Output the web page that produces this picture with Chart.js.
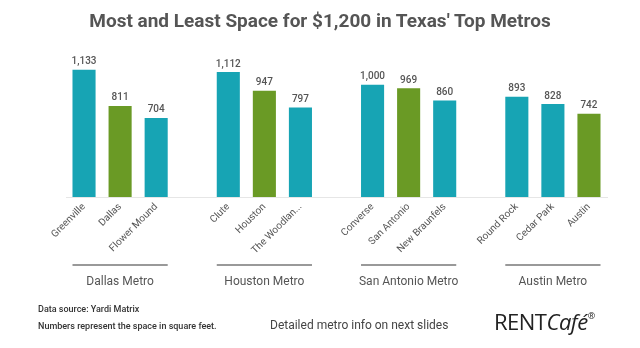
<!DOCTYPE html>
<html>
<head>
<meta charset="utf-8">
<script src="https://cdn.jsdelivr.net/npm/chart.js@4"></script>
<style>
  body { margin: 0; background: #fff; font-family: Roboto, sans-serif; }
  #wrap { position: relative; width: 640px; height: 348px; }
  #chart { position: absolute; left: 0; top: 0; }
  .txt { position: absolute; white-space: nowrap; }
  #title { left: 0; width: 640px; top: 9px; text-align: center; font-size: 19px; font-weight: 700; color: #555; }
  #src1 { left: 38px; top: 304px; font-size: 9px; font-weight: 500; color: #333; }
  #src2 { left: 38px; top: 321px; font-size: 9px; font-weight: 500; color: #333; }
  #note { left: 270px; top: 318px; font-size: 12px; color: #444; }
  #logo { left: 494px; top: 306px; font-size: 22px; color: #222; font-family: "Open Sans", sans-serif; letter-spacing: -0.5px; }
  #logo sup { font-size: 9px; vertical-align: 11px; }
</style>
</head>
<body>
<div id="wrap">
  <canvas id="chart" width="640" height="348"></canvas>
  <div id="title" class="txt">Most and Least Space for $1,200 in Texas' Top Metros</div>
  <div id="src1" class="txt">Data source: Yardi Matrix</div>
  <div id="src2" class="txt">Numbers represent the space in square feet.</div>
  <div id="note" class="txt">Detailed metro info on next slides</div>
  <div id="logo" class="txt">RENT<i>Café</i><sup>®</sup></div>
</div>
<script>
// cities (empty strings are the gaps between metro groups)
const cities = ['Greenville', 'Dallas', 'Flower Mound', '',
                'Clute', 'Houston', 'The Woodlan...', '',
                'Converse', 'San Antonio', 'New Braunfels', '',
                'Round Rock', 'Cedar Park', 'Austin'];
const sqft = [1133, 811, 704, null,
              1112, 947, 797, null,
              1000, 969, 860, null,
              893, 828, 742];
// true = the metro's core city (green bar)
const isCore = [false, true, false, false,
                false, true, false, false,
                false, true, false, false,
                false, false, true];
const metros = ['Dallas Metro', 'Houston Metro', 'San Antonio Metro', 'Austin Metro'];
const metroStart = [0, 4, 8, 12];
const metroEnd = [2, 6, 10, 14];

const TEAL = '#17a4b4';
const GREEN = '#6a9a25';

// value labels above bars + metro group lines/labels under the axis
const extras = {
    id: 'extras',
    afterDatasetsDraw(chart) {
        const c = chart.ctx;
        const meta = chart.getDatasetMeta(0);
        c.save();
        c.fillStyle = '#555';
        c.font = '500 10px Roboto';
        c.textAlign = 'center';
        c.textBaseline = 'bottom';
        meta.data.forEach((bar, i) => {
            if (sqft[i] == null) return;
            c.fillText(sqft[i].toLocaleString('en-US'), bar.x, bar.y - 3);
        });

        const x = chart.scales.x;
        const half = meta.data[0].width / 2;
        metros.forEach((name, i) => {
            const x1 = x.getPixelForValue(metroStart[i]) - half;
            const x2 = x.getPixelForValue(metroEnd[i]) + half;
            c.strokeStyle = '#777';
            c.lineWidth = 1.5;
            c.beginPath();
            c.moveTo(x1, 265);
            c.lineTo(x2, 265);
            c.stroke();
            c.font = '12px Roboto';
            c.textBaseline = 'middle';
            c.fillText(name, (x1 + x2) / 2, 282);
        });
        c.restore();
    }
};

const ctx = document.getElementById('chart').getContext('2d');
const chart = new Chart(ctx, {
    type: 'bar',
    data: {
        labels: cities,
        datasets: [{
            data: sqft,
            backgroundColor: isCore.map(g => g ? GREEN : TEAL),
            barPercentage: 0.64,
            categoryPercentage: 1,
        }],
    },
    options: {
        responsive: false,
        animation: false,
        layout: {
            padding: { left: 66, right: 33, top: 51, bottom: 81 },
        },
        plugins: {
            legend: { display: false },
            tooltip: { enabled: false },
        },
        scales: {
            x: {
                grid: { display: false, drawTicks: false },
                border: { color: '#e6e6e6' },
                ticks: {
                    minRotation: 45,
                    maxRotation: 45,
                    padding: 4,
                    color: '#555',
                    font: { family: 'Roboto', size: 10 },
                },
                afterFit: (scale) => { scale.height = 70; },
            },
            y: {
                display: false,
                min: 0,
                max: 1300,
            },
        },
    },
    plugins: [extras],
});
</script>
</body>
</html>
